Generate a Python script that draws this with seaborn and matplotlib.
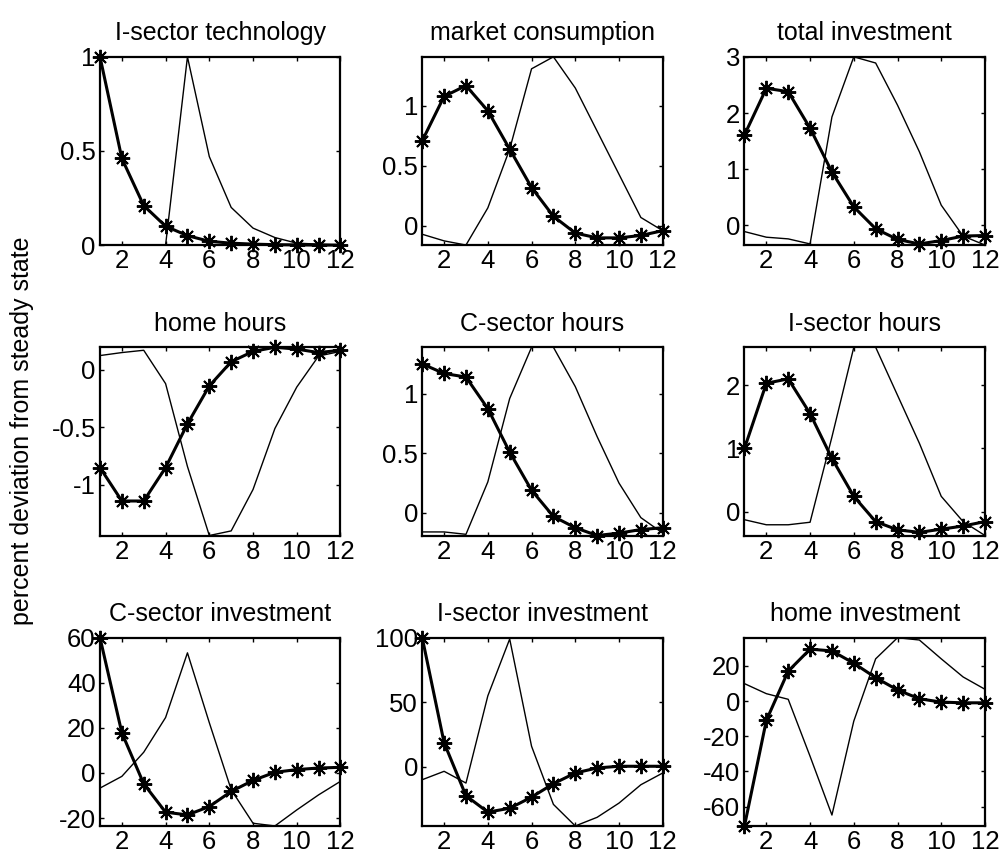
import matplotlib
matplotlib.use("Agg")
import matplotlib.pyplot as plt
import seaborn as sns
from matplotlib.ticker import FuncFormatter

# --------------
# Data
# --------------
periods = list(range(1, 13))

titles = ["I-sector technology", "market consumption", "total investment",
          "home hours", "C-sector hours", "I-sector hours",
          "C-sector investment", "I-sector investment", "home investment"]

# thick line with asterisks
i_tech_star = [1.0, 0.46, 0.21, 0.10, 0.05, 0.02, 0.01, 0.005, 0.002, 0.001, 0.0, 0.0]
mkt_cons_star = [0.71, 1.08, 1.17, 0.96, 0.64, 0.32, 0.08, -0.06, -0.10, -0.10, -0.08, -0.04]
tot_inv_star = [1.61, 2.44, 2.38, 1.73, 0.95, 0.33, -0.06, -0.25, -0.33, -0.27, -0.19, -0.18]
home_hrs_star = [-0.85, -1.14, -1.14, -0.85, -0.47, -0.14, 0.07, 0.16, 0.196, 0.18, 0.15, 0.17]
c_hrs_star = [1.25, 1.17, 1.14, 0.875, 0.51, 0.19, -0.03, -0.125, -0.19, -0.17, -0.14, -0.125]
i_hrs_star = [1.0, 2.03, 2.1, 1.55, 0.84, 0.24, -0.16, -0.29, -0.33, -0.28, -0.23, -0.16]
c_inv_star = [60, 17.8, -4.8, -17.4, -18.6, -14.9, -8.2, -3.3, 0.3, 1.5, 2.2, 2.5]
i_inv_star = [100, 18.7, -22.3, -35, -32, -23.4, -13, -4.7, -0.8, 0.5, 0.5, 0.5]
home_inv_star = [-71, -11, 17, 29.5, 28.5, 21.5, 13.3, 6.3, 1.3, -0.6, -1, -1]

# thin line
i_tech_thin = [0, 0, 0, 0, 1.0, 0.47, 0.20, 0.09, 0.04, 0.01, 0.005, 0.0]
mkt_cons_thin = [-0.07, -0.125, -0.16, 0.15, 0.64, 1.31, 1.41, 1.15, 0.79, 0.43, 0.07, -0.04]
tot_inv_thin = [-0.11, -0.21, -0.24, -0.33, 1.93, 3.0, 2.89, 2.14, 1.31, 0.36, -0.19, -0.35]
home_hrs_thin = [0.124, 0.15, 0.17, -0.12, -0.84, -1.44, -1.40, -1.04, -0.51, -0.15, 0.12, 0.16]
c_hrs_thin = [-0.16, -0.16, -0.18, 0.26, 0.96, 1.39, 1.39, 1.06, 0.64, 0.25, -0.04, -0.17]
i_hrs_thin = [-0.13, -0.21, -0.21, -0.17, 1.18, 2.6, 2.6, 1.84, 1.08, 0.24, -0.16, -0.38]
c_inv_thin = [-6.7, -1.5, 9.2, 24.6, 53.3, 22.3, -7.4, -22.3, -23.5, -16.4, -9.7, -3.7]
i_inv_thin = [-9.9, -3.4, -12.5, 55, 99, 16, -29, -45.7, -39, -28, -13.8, -4.7]
home_inv_thin = [9.9, 4.2, 1.0, -31.4, -64.8, -11.4, 24, 36, 34.7, 24, 13.7, 6.7]

star_series = [i_tech_star, mkt_cons_star, tot_inv_star, home_hrs_star, c_hrs_star,
               i_hrs_star, c_inv_star, i_inv_star, home_inv_star]
thin_series = [i_tech_thin, mkt_cons_thin, tot_inv_thin, home_hrs_thin, c_hrs_thin,
               i_hrs_thin, c_inv_thin, i_inv_thin, home_inv_thin]

y_ticks = [[0, 0.5, 1], [0, 0.5, 1], [0, 1, 2, 3],
           [-1, -0.5, 0], [0, 0.5, 1], [0, 1, 2],
           [-20, 0, 20, 40, 60], [0, 50, 100], [-60, -40, -20, 0, 20]]
x_ticks = [2, 4, 6, 8, 10, 12]

# --------------
# Plot
# --------------
sns.set_style("ticks")
plt.rcParams['font.family'] = ['Liberation Sans', 'DejaVu Sans']
plt.rcParams['axes.unicode_minus'] = False
plt.rcParams['text.color'] = 'black'
plt.rcParams['xtick.color'] = 'black'
plt.rcParams['ytick.color'] = 'black'
plt.rcParams['axes.labelcolor'] = 'black'

fig, axes = plt.subplots(3, 3, figsize=(10.02, 8.61), dpi=100)
fig.subplots_adjust(left=0.0998, right=0.983, top=0.934, bottom=0.0407,
                    wspace=0.34, hspace=0.543)

asterisk = (8, 2, 0)  # matlab-style '*' marker

for ax, title, ys, yt, yticks in zip(axes.flat, titles, star_series, thin_series, y_ticks):
    sns.lineplot(x=periods, y=yt, ax=ax, color='k', linewidth=1.0)
    sns.lineplot(x=periods, y=ys, ax=ax, color='k', linewidth=2.2,
                 marker=asterisk, markersize=11, markeredgewidth=1.4,
                 markeredgecolor='k', clip_on=False)
    lo = min(min(ys), min(yt))
    hi = max(max(ys), max(yt))
    ax.set_xlim(1, 12)
    ax.set_ylim(lo, hi)
    ax.set_xticks(x_ticks)
    ax.set_yticks(yticks)
    ax.yaxis.set_major_formatter(FuncFormatter(lambda v, p: '%g' % v))
    ax.tick_params(direction='in', top=True, right=True, length=3, width=1,
                   labelsize=18.5, pad=3, colors='black')
    for s in ax.spines.values():
        s.set_linewidth(1.6)
        s.set_color('k')
    ax.set_title(title, fontsize=18, pad=12, color='black')

fig.text(0.022, 0.5, "percent deviation from steady state", rotation=90,
         ha='center', va='center', fontsize=18, color='black')

plt.savefig('out.png', dpi=100, facecolor='white')
plt.close()
